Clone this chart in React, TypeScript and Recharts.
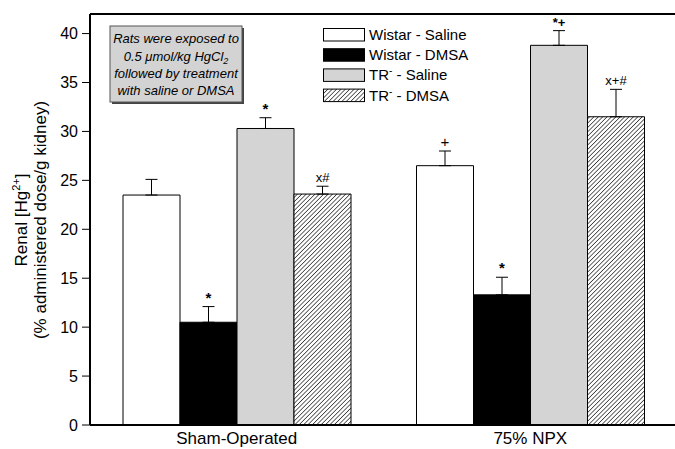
import { Bar, BarChart, ErrorBar, LabelList, ReferenceLine, XAxis, YAxis } from "recharts";

// group names on the x axis
const groups = ["Sham-Operated", "75% NPX"];

// mean renal Hg (% administered dose / g kidney)
const wistarSaline = [23.5, 26.5];
const wistarDmsa = [10.5, 13.3];
const trSaline = [30.3, 38.8];
const trDmsa = [23.6, 31.5];

// SEM (upper bar only)
const wistarSalineErr = [1.6, 1.5];
const wistarDmsaErr = [1.6, 1.8];
const trSalineErr = [1.1, 1.5];
const trDmsaErr = [0.8, 2.8];

// significance marks
const wistarSalineSig = ["", "+"];
const wistarDmsaSig = ["*", "*"];
const trSalineSig = ["*", "*+"];
const trDmsaSig = ["x#", "x+#"];

const yTicks = [0, 5, 10, 15, 20, 25, 30, 35, 40];

const data = groups.map((g, i) => ({
  group: g,
  ws: wistarSaline[i],
  wd: wistarDmsa[i],
  ts: trSaline[i],
  td: trDmsa[i],
  wsErr: [0, wistarSalineErr[i]],
  wdErr: [0, wistarDmsaErr[i]],
  tsErr: [0, trSalineErr[i]],
  tdErr: [0, trDmsaErr[i]],
  wsSig: wistarSalineSig[i],
  wdSig: wistarDmsaSig[i],
  tsSig: trSalineSig[i],
  tdSig: trDmsaSig[i],
}));

const font = "'Liberation Sans', Arial, sans-serif";

// label sitting just above the error bar cap
const sigLabel = (values: number[], errs: number[]) => (props: any) => {
  const { x, y, width, height, value, index } = props;
  if (!value) return null;
  const v = values[index];
  const px = height / v;
  const top = y - errs[index] * px;
  return (
    <text
      x={x + width / 2}
      y={top - 4}
      textAnchor="middle"
      fontFamily={font}
      fontSize={value.length > 1 ? 13 : 15}
      fontWeight={value.includes("*") ? "bold" : "normal"}
      fill="#000"
    >
      {value}
    </text>
  );
};

const legendItems = [
  { label: "Wistar - Saline", fill: "#ffffff", tr: false },
  { label: "Wistar - DMSA", fill: "#000000", tr: false },
  { label: " - Saline", fill: "#d4d4d4", tr: true },
  { label: " - DMSA", fill: "url(#hatchL)", tr: true },
];

export default function App() {
  return (
    <div style={{ position: "absolute", left: 0, top: 0, width: 675, height: 449, overflow: "hidden", background: "#fff" }}>
      <BarChart
        width={690}
        height={449}
        data={data}
        margin={{ top: 14, right: 13, left: 0, bottom: 0 }}
        barCategoryGap={33}
        barGap={0}
      >
        <defs>
          <pattern id="hatch" patternUnits="userSpaceOnUse" width={3.1} height={3.1} patternTransform="rotate(45)">
            <rect width={3.1} height={3.1} fill="#fff" />
            <line x1={0} y1={0} x2={0} y2={3.1} stroke="#000" strokeWidth={1.2} />
          </pattern>
        </defs>
        <XAxis
          dataKey="group"
          tickLine={false}
          tickMargin={1}
          axisLine={{ stroke: "#000", strokeWidth: 2 }}
          height={24}
          tick={{ fill: "#000", fontSize: 17, fontFamily: font }}
        />
        <YAxis
          domain={[0, 42]}
          ticks={yTicks}
          width={90}
          tickSize={8}
          tickMargin={4}
          axisLine={{ stroke: "#000", strokeWidth: 2 }}
          tickLine={{ stroke: "#000", strokeWidth: 1 }}
          tick={{ fill: "#000", fontSize: 16, fontFamily: font }}
        />
        <ReferenceLine y={42} stroke="#000" strokeWidth={2} />
        <Bar dataKey="ws" fill="#ffffff" stroke="#000" strokeWidth={1} isAnimationActive={false}>
          <ErrorBar dataKey="wsErr" width={6} stroke="#000" strokeWidth={1} />
          <LabelList dataKey="wsSig" content={sigLabel(wistarSaline, wistarSalineErr)} />
        </Bar>
        <Bar dataKey="wd" fill="#000000" stroke="#000" strokeWidth={1} isAnimationActive={false}>
          <ErrorBar dataKey="wdErr" width={6} stroke="#000" strokeWidth={1} />
          <LabelList dataKey="wdSig" content={sigLabel(wistarDmsa, wistarDmsaErr)} />
        </Bar>
        <Bar dataKey="ts" fill="#d4d4d4" stroke="#000" strokeWidth={1} isAnimationActive={false}>
          <ErrorBar dataKey="tsErr" width={6} stroke="#000" strokeWidth={1} />
          <LabelList dataKey="tsSig" content={sigLabel(trSaline, trSalineErr)} />
        </Bar>
        <Bar dataKey="td" fill="url(#hatch)" stroke="#000" strokeWidth={1} isAnimationActive={false}>
          <ErrorBar dataKey="tdErr" width={6} stroke="#000" strokeWidth={1} />
          <LabelList dataKey="tdSig" content={sigLabel(trDmsa, trDmsaErr)} />
        </Bar>
      </BarChart>

      <svg width={675} height={449} style={{ position: "absolute", left: 0, top: 0, pointerEvents: "none" }}>
        <defs>
          <pattern id="hatchL" patternUnits="userSpaceOnUse" width={3.1} height={3.1} patternTransform="rotate(45)">
            <rect width={3.1} height={3.1} fill="#fff" />
            <line x1={0} y1={0} x2={0} y2={3.1} stroke="#000" strokeWidth={1.2} />
          </pattern>
        </defs>

        {/* y axis title */}
        <g transform="translate(27,220) rotate(-90)" fontFamily={font} fontSize={17} fill="#000" textAnchor="middle">
          <text x={0} y={0}>
            Renal [Hg
            <tspan dy={-7} fontSize={11}>2+</tspan>
            <tspan dy={7}>]</tspan>
          </text>
          <text x={0} y={19}>(% administered dose/g kidney)</text>
        </g>

        {/* note box */}
        <rect x={112} y={28} width={132} height={76} fill="#444" />
        <rect x={110} y={26} width={132} height={76} fill="#d3d3d3" stroke="#555" strokeWidth={1} />
        <g fontFamily={font} fontSize={13} fontStyle="italic" textAnchor="middle" fill="#000">
          <text x={176} y={43}>Rats were exposed to</text>
          <text x={176} y={61}>
            0.5 μmol/kg HgCl
            <tspan dy={3} fontSize={9}>2</tspan>
          </text>
          <text x={176} y={78}>followed by treatment</text>
          <text x={176} y={95}>with saline or DMSA</text>
        </g>

        {/* legend */}
        {legendItems.map((it, i) => {
          const y = 28 + i * 20.2;
          return (
            <g key={it.label}>
              <rect x={323.5} y={y + 0.5} width={41} height={12.5} fill={it.fill} stroke="#000" strokeWidth={1} />
              <text x={369} y={y + 12} fontFamily={font} fontSize={15} fill="#000">
                {it.tr ? (
                  <>
                    TR
                    <tspan dy={-6} fontSize={10}>-</tspan>
                    <tspan dy={6}>{it.label}</tspan>
                  </>
                ) : (
                  it.label
                )}
              </text>
            </g>
          );
        })}
      </svg>
    </div>
  );
}
